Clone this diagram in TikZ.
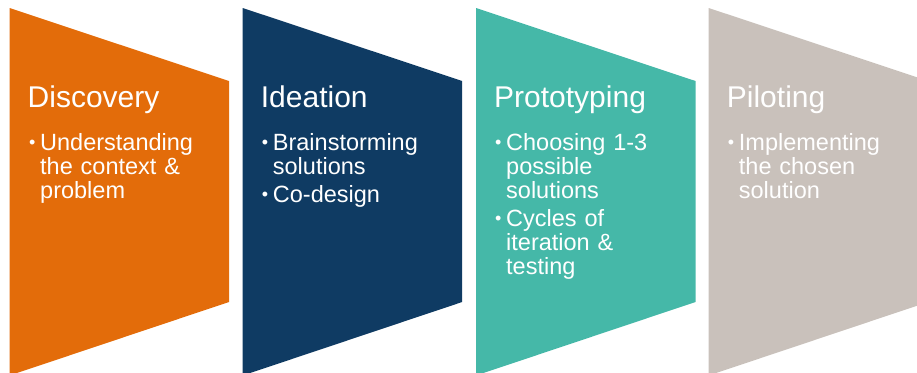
\documentclass[tikz,border=0pt]{standalone}
\usepackage{fontspec}
\setmainfont{Liberation Sans}

\definecolor{discoverycol}{HTML}{E36C0A}
\definecolor{ideationcol}{HTML}{0F3B63}
\definecolor{prototypingcol}{HTML}{45B8A8}
\definecolor{pilotingcol}{HTML}{C9C1BB}

% one bullet point, hanging under its first word
\newcommand{\point}[1]{\leavevmode\hangindent=11pt\hangafter=1%
  \makebox[11pt][l]{\raisebox{2pt}{\fontsize{18}{18}\selectfont\textbullet}}#1\par}

\begin{document}
\begin{tikzpicture}[x=1pt,y=-1pt,
	stage title/.style={anchor=base west,inner sep=0pt,text=white,font=\fontsize{30}{30}\selectfont},
	stage items/.style={anchor=base west,inner sep=0pt,text=white,text width=210pt,align=left,
		font=\fontsize{23.5}{23.8}\selectfont,execute at begin node={\setlength{\parskip}{4.8pt}}}]
	
	\useasboundingbox (0,0) rectangle (917,372);
	\clip (0,0) rectangle (917,372);
	
	\foreach \x/\c in {9.5/discoverycol,242.7/ideationcol,476/prototypingcol,708.7/pilotingcol}
		\fill[fill=\c] (\x,8) -- ++(219.5,73) -- ++(0,221) -- ++(-219.5,73.5) -- cycle;
	
	\node[stage title] (discovery) at (27.5,107.5) {Discovery};
	\node[stage title] (ideation) at (260.7,107.5) {Ideation};
	\node[stage title] (prototyping) at (494,107.5) {Prototyping};
	\node[stage title] (piloting) at (726.7,107.5) {Piloting};
	
	\node[stage items] (discovery items) at (29,150.5)
		{\point{Understanding\newline the context \&\newline problem}};
	\node[stage items] (ideation items) at (261.7,150.5)
		{\point{Brainstorming\newline solutions}\point{Co-design}};
	\node[stage items] (prototyping items) at (495,150.5)
		{\point{Choosing 1-3\newline possible\newline solutions}\point{Cycles of\newline iteration \&\newline testing}};
	\node[stage items] (piloting items) at (727.7,150.5)
		{\point{Implementing\newline the chosen\newline solution}};
\end{tikzpicture}
\end{document}
